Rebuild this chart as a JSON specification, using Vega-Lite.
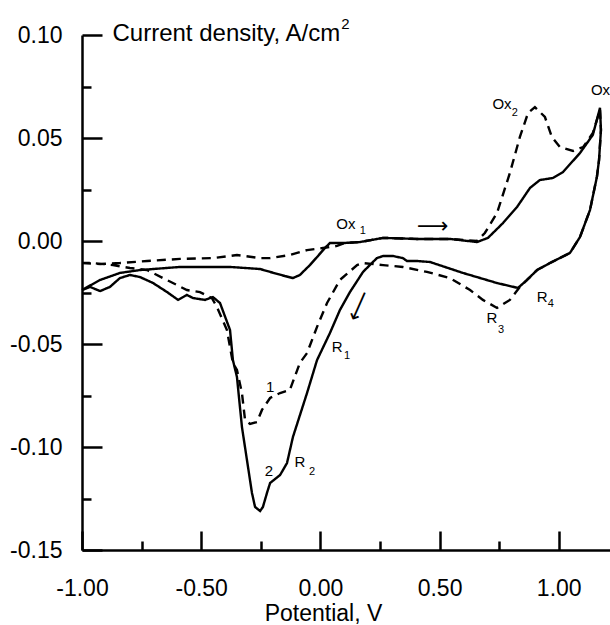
{
  "$schema": "https://vega.github.io/schema/vega-lite/v6.json",
  "width": 528,
  "height": 515,
  "autosize": {"type": "none"},
  "padding": {"left": 82, "top": 35, "right": 0, "bottom": 75},
  "background": "white",
  "config": {
    "view": {"stroke": null},
    "font": "Liberation Sans",
    "axis": {
      "domainColor": "black", "domainWidth": 2.5, "tickColor": "black", "tickWidth": 2.5,
      "labelColor": "black", "titleColor": "black", "grid": false, "labelFlush": false,
      "labelFont": "Liberation Sans", "titleFont": "Liberation Sans",
      "labelFontSize": 23, "titleFontSize": 24, "titleFontWeight": "normal"
    }
  },
  "datasets": {
    "curves": [
      {"cycle": "2", "i": 1, "E": -1.000, "J": -0.0238},
      {"cycle": "2", "i": 2, "E": -0.924, "J": -0.0189},
      {"cycle": "2", "i": 3, "E": -0.841, "J": -0.0155},
      {"cycle": "2", "i": 4, "E": -0.757, "J": -0.0141},
      {"cycle": "2", "i": 5, "E": -0.589, "J": -0.0126},
      {"cycle": "2", "i": 6, "E": -0.379, "J": -0.0126},
      {"cycle": "2", "i": 7, "E": -0.253, "J": -0.0136},
      {"cycle": "2", "i": 8, "E": -0.211, "J": -0.0150},
      {"cycle": "2", "i": 9, "E": -0.149, "J": -0.0170},
      {"cycle": "2", "i": 10, "E": -0.115, "J": -0.0180},
      {"cycle": "2", "i": 11, "E": -0.086, "J": -0.0165},
      {"cycle": "2", "i": 12, "E": -0.044, "J": -0.0117},
      {"cycle": "2", "i": 13, "E": -0.014, "J": -0.0078},
      {"cycle": "2", "i": 14, "E": 0.019, "J": -0.0034},
      {"cycle": "2", "i": 15, "E": 0.040, "J": -0.0010},
      {"cycle": "2", "i": 16, "E": 0.095, "J": -0.0010},
      {"cycle": "2", "i": 17, "E": 0.166, "J": -0.0005},
      {"cycle": "2", "i": 18, "E": 0.263, "J": 0.0015},
      {"cycle": "2", "i": 19, "E": 0.405, "J": 0.0010},
      {"cycle": "2", "i": 20, "E": 0.544, "J": 0.0010},
      {"cycle": "2", "i": 21, "E": 0.657, "J": -0.0005},
      {"cycle": "2", "i": 22, "E": 0.703, "J": 0.0015},
      {"cycle": "2", "i": 23, "E": 0.766, "J": 0.0087},
      {"cycle": "2", "i": 24, "E": 0.825, "J": 0.0165},
      {"cycle": "2", "i": 25, "E": 0.879, "J": 0.0257},
      {"cycle": "2", "i": 26, "E": 0.921, "J": 0.0296},
      {"cycle": "2", "i": 27, "E": 0.976, "J": 0.0306},
      {"cycle": "2", "i": 28, "E": 1.018, "J": 0.0335},
      {"cycle": "2", "i": 29, "E": 1.089, "J": 0.0427},
      {"cycle": "2", "i": 30, "E": 1.143, "J": 0.0515},
      {"cycle": "2", "i": 31, "E": 1.173, "J": 0.0646},
      {"cycle": "2", "i": 32, "E": 1.177, "J": 0.0539},
      {"cycle": "2", "i": 33, "E": 1.169, "J": 0.0393},
      {"cycle": "2", "i": 34, "E": 1.160, "J": 0.0311},
      {"cycle": "2", "i": 35, "E": 1.131, "J": 0.0150},
      {"cycle": "2", "i": 36, "E": 1.089, "J": 0.0019},
      {"cycle": "2", "i": 37, "E": 1.047, "J": -0.0058},
      {"cycle": "2", "i": 38, "E": 0.963, "J": -0.0107},
      {"cycle": "2", "i": 39, "E": 0.909, "J": -0.0141},
      {"cycle": "2", "i": 40, "E": 0.867, "J": -0.0189},
      {"cycle": "2", "i": 41, "E": 0.829, "J": -0.0228},
      {"cycle": "2", "i": 42, "E": 0.741, "J": -0.0204},
      {"cycle": "2", "i": 43, "E": 0.598, "J": -0.0155},
      {"cycle": "2", "i": 44, "E": 0.460, "J": -0.0102},
      {"cycle": "2", "i": 45, "E": 0.405, "J": -0.0097},
      {"cycle": "2", "i": 46, "E": 0.363, "J": -0.0097},
      {"cycle": "2", "i": 47, "E": 0.346, "J": -0.0083},
      {"cycle": "2", "i": 48, "E": 0.305, "J": -0.0073},
      {"cycle": "2", "i": 49, "E": 0.263, "J": -0.0073},
      {"cycle": "2", "i": 50, "E": 0.237, "J": -0.0083},
      {"cycle": "2", "i": 51, "E": 0.179, "J": -0.0150},
      {"cycle": "2", "i": 52, "E": 0.124, "J": -0.0248},
      {"cycle": "2", "i": 53, "E": 0.082, "J": -0.0335},
      {"cycle": "2", "i": 54, "E": 0.040, "J": -0.0447},
      {"cycle": "2", "i": 55, "E": -0.014, "J": -0.0578},
      {"cycle": "2", "i": 56, "E": -0.056, "J": -0.0738},
      {"cycle": "2", "i": 57, "E": -0.115, "J": -0.0951},
      {"cycle": "2", "i": 58, "E": -0.140, "J": -0.1078},
      {"cycle": "2", "i": 59, "E": -0.169, "J": -0.1136},
      {"cycle": "2", "i": 60, "E": -0.211, "J": -0.1175},
      {"cycle": "2", "i": 61, "E": -0.224, "J": -0.1223},
      {"cycle": "2", "i": 62, "E": -0.241, "J": -0.1291},
      {"cycle": "2", "i": 63, "E": -0.253, "J": -0.1311},
      {"cycle": "2", "i": 64, "E": -0.274, "J": -0.1291},
      {"cycle": "2", "i": 65, "E": -0.287, "J": -0.1223},
      {"cycle": "2", "i": 66, "E": -0.308, "J": -0.1063},
      {"cycle": "2", "i": 67, "E": -0.329, "J": -0.0903},
      {"cycle": "2", "i": 68, "E": -0.350, "J": -0.0660},
      {"cycle": "2", "i": 69, "E": -0.367, "J": -0.0578},
      {"cycle": "2", "i": 70, "E": -0.379, "J": -0.0432},
      {"cycle": "2", "i": 71, "E": -0.421, "J": -0.0301},
      {"cycle": "2", "i": 72, "E": -0.451, "J": -0.0272},
      {"cycle": "2", "i": 73, "E": -0.484, "J": -0.0286},
      {"cycle": "2", "i": 74, "E": -0.534, "J": -0.0277},
      {"cycle": "2", "i": 75, "E": -0.560, "J": -0.0262},
      {"cycle": "2", "i": 76, "E": -0.597, "J": -0.0286},
      {"cycle": "2", "i": 77, "E": -0.643, "J": -0.0248},
      {"cycle": "2", "i": 78, "E": -0.702, "J": -0.0204},
      {"cycle": "2", "i": 79, "E": -0.757, "J": -0.0175},
      {"cycle": "2", "i": 80, "E": -0.799, "J": -0.0165},
      {"cycle": "2", "i": 81, "E": -0.841, "J": -0.0180},
      {"cycle": "2", "i": 82, "E": -0.883, "J": -0.0223},
      {"cycle": "2", "i": 83, "E": -0.924, "J": -0.0243},
      {"cycle": "2", "i": 84, "E": -0.966, "J": -0.0223},
      {"cycle": "2", "i": 85, "E": -1.000, "J": -0.0238},
      {"cycle": "1", "i": 1, "E": -1.000, "J": -0.0107},
      {"cycle": "1", "i": 2, "E": -0.924, "J": -0.0112},
      {"cycle": "1", "i": 3, "E": -0.841, "J": -0.0107},
      {"cycle": "1", "i": 4, "E": -0.727, "J": -0.0097},
      {"cycle": "1", "i": 5, "E": -0.589, "J": -0.0087},
      {"cycle": "1", "i": 6, "E": -0.451, "J": -0.0083},
      {"cycle": "1", "i": 7, "E": -0.350, "J": -0.0068},
      {"cycle": "1", "i": 8, "E": -0.253, "J": -0.0083},
      {"cycle": "1", "i": 9, "E": -0.211, "J": -0.0083},
      {"cycle": "1", "i": 10, "E": -0.128, "J": -0.0068},
      {"cycle": "1", "i": 11, "E": -0.056, "J": -0.0044},
      {"cycle": "1", "i": 12, "E": 0.011, "J": -0.0034},
      {"cycle": "1", "i": 13, "E": 0.070, "J": -0.0024},
      {"cycle": "1", "i": 14, "E": 0.103, "J": -0.0010},
      {"cycle": "1", "i": 15, "E": 0.166, "J": -0.0005},
      {"cycle": "1", "i": 16, "E": 0.263, "J": 0.0015},
      {"cycle": "1", "i": 17, "E": 0.405, "J": 0.0010},
      {"cycle": "1", "i": 18, "E": 0.544, "J": 0.0010},
      {"cycle": "1", "i": 19, "E": 0.657, "J": 0.0000},
      {"cycle": "1", "i": 20, "E": 0.690, "J": 0.0039},
      {"cycle": "1", "i": 21, "E": 0.741, "J": 0.0136},
      {"cycle": "1", "i": 22, "E": 0.795, "J": 0.0330},
      {"cycle": "1", "i": 23, "E": 0.837, "J": 0.0505},
      {"cycle": "1", "i": 24, "E": 0.871, "J": 0.0621},
      {"cycle": "1", "i": 25, "E": 0.900, "J": 0.0650},
      {"cycle": "1", "i": 26, "E": 0.942, "J": 0.0602},
      {"cycle": "1", "i": 27, "E": 0.971, "J": 0.0505},
      {"cycle": "1", "i": 28, "E": 1.005, "J": 0.0456},
      {"cycle": "1", "i": 29, "E": 1.060, "J": 0.0437},
      {"cycle": "1", "i": 30, "E": 1.102, "J": 0.0456},
      {"cycle": "1", "i": 31, "E": 1.143, "J": 0.0524},
      {"cycle": "1", "i": 32, "E": 1.173, "J": 0.0636},
      {"cycle": "1", "i": 33, "E": 1.177, "J": 0.0539},
      {"cycle": "1", "i": 34, "E": 1.169, "J": 0.0393},
      {"cycle": "1", "i": 35, "E": 1.160, "J": 0.0311},
      {"cycle": "1", "i": 36, "E": 1.131, "J": 0.0150},
      {"cycle": "1", "i": 37, "E": 1.089, "J": 0.0019},
      {"cycle": "1", "i": 38, "E": 1.047, "J": -0.0058},
      {"cycle": "1", "i": 39, "E": 0.963, "J": -0.0107},
      {"cycle": "1", "i": 40, "E": 0.909, "J": -0.0141},
      {"cycle": "1", "i": 41, "E": 0.867, "J": -0.0189},
      {"cycle": "1", "i": 42, "E": 0.837, "J": -0.0223},
      {"cycle": "1", "i": 43, "E": 0.795, "J": -0.0286},
      {"cycle": "1", "i": 44, "E": 0.741, "J": -0.0325},
      {"cycle": "1", "i": 45, "E": 0.682, "J": -0.0286},
      {"cycle": "1", "i": 46, "E": 0.628, "J": -0.0238},
      {"cycle": "1", "i": 47, "E": 0.544, "J": -0.0180},
      {"cycle": "1", "i": 48, "E": 0.447, "J": -0.0150},
      {"cycle": "1", "i": 49, "E": 0.346, "J": -0.0126},
      {"cycle": "1", "i": 50, "E": 0.263, "J": -0.0117},
      {"cycle": "1", "i": 51, "E": 0.179, "J": -0.0107},
      {"cycle": "1", "i": 52, "E": 0.154, "J": -0.0117},
      {"cycle": "1", "i": 53, "E": 0.082, "J": -0.0189},
      {"cycle": "1", "i": 54, "E": 0.028, "J": -0.0301},
      {"cycle": "1", "i": 55, "E": -0.014, "J": -0.0417},
      {"cycle": "1", "i": 56, "E": -0.056, "J": -0.0544},
      {"cycle": "1", "i": 57, "E": -0.086, "J": -0.0592},
      {"cycle": "1", "i": 58, "E": -0.128, "J": -0.0723},
      {"cycle": "1", "i": 59, "E": -0.169, "J": -0.0738},
      {"cycle": "1", "i": 60, "E": -0.211, "J": -0.0762},
      {"cycle": "1", "i": 61, "E": -0.245, "J": -0.0820},
      {"cycle": "1", "i": 62, "E": -0.266, "J": -0.0879},
      {"cycle": "1", "i": 63, "E": -0.295, "J": -0.0888},
      {"cycle": "1", "i": 64, "E": -0.316, "J": -0.0869},
      {"cycle": "1", "i": 65, "E": -0.329, "J": -0.0738},
      {"cycle": "1", "i": 66, "E": -0.350, "J": -0.0626},
      {"cycle": "1", "i": 67, "E": -0.367, "J": -0.0592},
      {"cycle": "1", "i": 68, "E": -0.392, "J": -0.0432},
      {"cycle": "1", "i": 69, "E": -0.434, "J": -0.0320},
      {"cycle": "1", "i": 70, "E": -0.455, "J": -0.0277},
      {"cycle": "1", "i": 71, "E": -0.505, "J": -0.0248},
      {"cycle": "1", "i": 72, "E": -0.560, "J": -0.0238},
      {"cycle": "1", "i": 73, "E": -0.660, "J": -0.0180},
      {"cycle": "1", "i": 74, "E": -0.727, "J": -0.0141},
      {"cycle": "1", "i": 75, "E": -0.799, "J": -0.0131},
      {"cycle": "1", "i": 76, "E": -0.870, "J": -0.0117},
      {"cycle": "1", "i": 77, "E": -0.954, "J": -0.0107},
      {"cycle": "1", "i": 78, "E": -1.000, "J": -0.0107}
    ],
    "labels": [
      {"t": "Ox", "E": 0.107, "J": 0.0083},
      {"t": "Ox", "E": 0.762, "J": 0.0665},
      {"t": "Ox", "E": 1.175, "J": 0.0733},
      {"t": "R", "E": 0.070, "J": -0.0515},
      {"t": "R", "E": -0.086, "J": -0.1073},
      {"t": "R", "E": 0.720, "J": -0.0374},
      {"t": "R", "E": 0.930, "J": -0.0272},
      {"t": "1", "E": -0.211, "J": -0.0709},
      {"t": "2", "E": -0.216, "J": -0.1117}
    ],
    "subs": [
      {"t": "1", "E": 0.178, "J": 0.0049},
      {"t": "2", "E": 0.816, "J": 0.0621},
      {"t": "1", "E": 0.112, "J": -0.0558},
      {"t": "2", "E": -0.035, "J": -0.1121},
      {"t": "3", "E": 0.758, "J": -0.0432},
      {"t": "4", "E": 0.967, "J": -0.0306}
    ],
    "sup": [
      {"t": "2", "E": 0.088, "J": 0.1052}
    ]
  },
  "layer": [
    {
      "data": {"name": "curves"},
      "mark": {"type": "line", "color": "black", "strokeWidth": 2.4},
      "encoding": {
        "x": {
          "field": "E", "type": "quantitative",
          "scale": {"domain": [-1, 1.215], "nice": false, "zero": false},
          "axis": {
            "orient": "bottom", "values": [-1, -0.5, 0, 0.5, 1],
            "labelExpr": "replace(format(datum.value, '.2f'), '\u2212', '-')",
            "tickSize": -19, "labelPadding": 46,
            "title": "Potential, V", "titleX": 241, "titleY": 70, "titleFontSize": 23,
            "titleAlign": "center", "titleBaseline": "alphabetic", "titleAnchor": null
          }
        },
        "y": {
          "field": "J", "type": "quantitative",
          "scale": {"domain": [-0.15, 0.1], "nice": false, "zero": false},
          "axis": {
            "orient": "left", "values": [-0.15, -0.1, -0.05, 0, 0.05, 0.1],
            "labelExpr": "replace(format(datum.value, '.2f'), '\u2212', '-')",
            "tickSize": -20, "labelPadding": 40,
            "title": "Current density, A/cm", "titleAngle": 0,
            "titleX": 30, "titleY": 5, "titleAlign": "left", "titleBaseline": "alphabetic"
          }
        },
        "strokeDash": {
          "field": "cycle", "type": "nominal",
          "scale": {"domain": ["1", "2"], "range": [[9, 6], [1, 0]]},
          "legend": null
        },
        "order": {"field": "i", "type": "quantitative"}
      }
    },
    {
      "data": {"name": "labels"},
      "mark": {"type": "text", "fontSize": 15, "font": "Liberation Sans", "color": "black"},
      "encoding": {
        "x": {
          "field": "E", "type": "quantitative",
          "axis": {"orient": "bottom", "values": [-0.75, -0.25, 0.25, 0.75], "labels": false, "tickSize": -9, "title": null, "domain": false}
        },
        "y": {
          "field": "J", "type": "quantitative",
          "axis": {"orient": "left", "values": [-0.125, -0.075, -0.025, 0.025, 0.075], "labels": false, "tickSize": -9, "title": null, "domain": false}
        },
        "text": {"field": "t"}
      }
    },
    {
      "data": {"name": "subs"},
      "mark": {"type": "text", "fontSize": 11, "font": "Liberation Sans", "color": "black"},
      "encoding": {
        "x": {"field": "E", "type": "quantitative", "axis": null},
        "y": {"field": "J", "type": "quantitative", "axis": null},
        "text": {"field": "t"}
      }
    },
    {
      "data": {"name": "sup"},
      "mark": {"type": "text", "fontSize": 15, "font": "Liberation Sans", "color": "black", "align": "left"},
      "encoding": {
        "x": {"field": "E", "type": "quantitative", "axis": null},
        "y": {"field": "J", "type": "quantitative", "axis": null},
        "text": {"field": "t"}
      }
    },
    {
      "data": {"values": [{"E": 0.472, "J": 0.0073, "t": "⟶"}]},
      "mark": {"type": "text", "fontSize": 22, "font": "DejaVu Sans", "color": "black"},
      "encoding": {
        "x": {"field": "E", "type": "quantitative", "axis": null},
        "y": {"field": "J", "type": "quantitative", "axis": null},
        "text": {"field": "t"}
      }
    },
    {
      "data": {"values": [{"E": 0.162, "J": -0.0316, "t": "⟶"}]},
      "mark": {"type": "text", "fontSize": 22, "font": "DejaVu Sans", "color": "black", "angle": 114},
      "encoding": {
        "x": {"field": "E", "type": "quantitative", "axis": null},
        "y": {"field": "J", "type": "quantitative", "axis": null},
        "text": {"field": "t"}
      }
    }
  ],
  "resolve": {"axis": {"x": "independent", "y": "independent"}}
}
